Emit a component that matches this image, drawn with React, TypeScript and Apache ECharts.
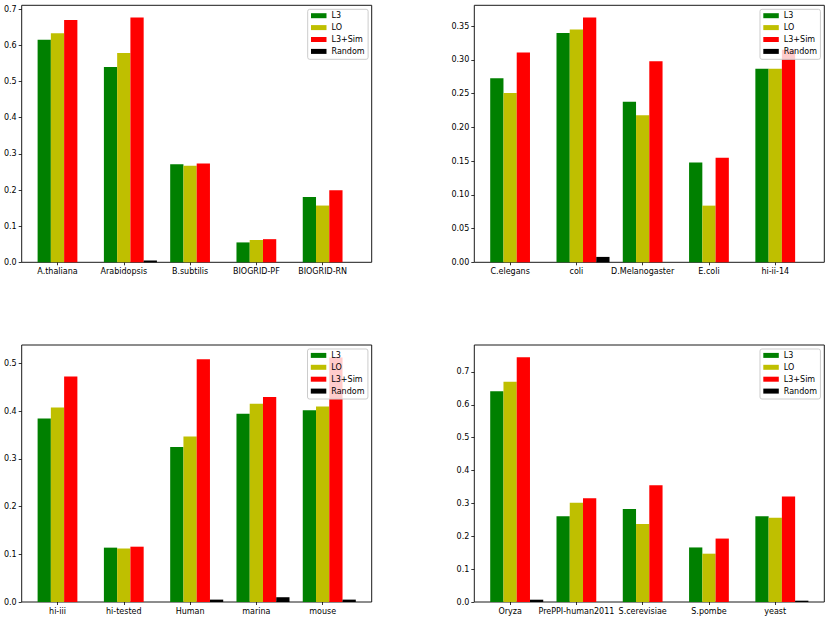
import React, { useEffect, useRef } from "react";
import * as echarts from "echarts";

const SERIES_NAMES = ["L3", "LO", "L3+Sim", "Random"];
const COLORS = ["#008000", "#bfbf00", "#ff0000", "#000000"];

// Panel 1
const cats1 = ["A.thaliana", "Arabidopsis", "B.subtilis", "BIOGRID-PF", "BIOGRID-RN"];
const l3_1 = [0.616, 0.540, 0.271, 0.055, 0.181];
const lo_1 = [0.634, 0.579, 0.267, 0.062, 0.157];
const sim_1 = [0.670, 0.677, 0.273, 0.064, 0.199];
const rnd_1 = [0, 0.005, 0, 0, 0];
const yTicks1 = [0, 0.1, 0.2, 0.3, 0.4, 0.5, 0.6, 0.7];
const yMax1 = 0.711;

// Panel 2
const cats2 = ["C.elegans", "coli", "D.Melanogaster", "E.coli", "hi-ii-14"];
const l3_2 = [0.273, 0.340, 0.238, 0.148, 0.287];
const lo_2 = [0.251, 0.345, 0.218, 0.084, 0.287];
const sim_2 = [0.311, 0.363, 0.298, 0.155, 0.315];
const rnd_2 = [0, 0.008, 0, 0, 0];
const yTicks2 = [0, 0.05, 0.1, 0.15, 0.2, 0.25, 0.3, 0.35];
const yMax2 = 0.381;

// Panel 3
const cats3 = ["hi-iii", "hi-tested", "Human", "marina", "mouse"];
const l3_3 = [0.385, 0.114, 0.325, 0.395, 0.402];
const lo_3 = [0.408, 0.112, 0.347, 0.416, 0.410];
const sim_3 = [0.473, 0.116, 0.509, 0.430, 0.513];
const rnd_3 = [0, 0, 0.005, 0.010, 0.005];
const yTicks3 = [0, 0.1, 0.2, 0.3, 0.4, 0.5];
const yMax3 = 0.539;

// Panel 4
const cats4 = ["Oryza", "PrePPI-human2011", "S.cerevisiae", "S.pombe", "yeast"];
const l3_4 = [0.641, 0.261, 0.283, 0.166, 0.261];
const lo_4 = [0.670, 0.302, 0.237, 0.147, 0.256];
const sim_4 = [0.745, 0.316, 0.355, 0.193, 0.321];
const rnd_4 = [0.007, 0, 0, 0, 0.004];
const yTicks4 = [0, 0.1, 0.2, 0.3, 0.4, 0.5, 0.6, 0.7];
const yMax4 = 0.782;

const PANELS = [
  { cats: cats1, vals: [l3_1, lo_1, sim_1, rnd_1], ticks: yTicks1, max: yMax1, dec: 1 },
  { cats: cats2, vals: [l3_2, lo_2, sim_2, rnd_2], ticks: yTicks2, max: yMax2, dec: 2 },
  { cats: cats3, vals: [l3_3, lo_3, sim_3, rnd_3], ticks: yTicks3, max: yMax3, dec: 1 },
  { cats: cats4, vals: [l3_4, lo_4, sim_4, rnd_4], ticks: yTicks4, max: yMax4, dec: 1 },
];

const LAYOUT = [
  { left: 21.7, top: 5.3, lgLeft: 307.7, lgTop: 9.3 },
  { left: 474.3, top: 5.3, lgLeft: 760, lgTop: 9.3 },
  { left: 21.7, top: 345, lgLeft: 307.5, lgTop: 349 },
  { left: 474.3, top: 345, lgLeft: 760, lgTop: 349 },
];

const FONT = "DejaVu Sans";

function buildOption() {
  const W = 350;
  const H = 257;
  const span = 5.28; // matplotlib x extent in category units
  const unit = W / span;
  const catOffset = 0.04 * unit;
  const barW = 0.2 * unit;

  const grid: any[] = [];
  const xAxis: any[] = [];
  const yAxis: any[] = [];
  const series: any[] = [];
  const legend: any[] = [];

  PANELS.forEach((p, i) => {
    const L = LAYOUT[i];
    const gFrame = grid.length;
    grid.push({
      left: L.left,
      top: L.top,
      width: W,
      height: H,
      show: true,
      borderColor: "#1a1a1a",
      borderWidth: 1,
      backgroundColor: "transparent",
    });
    grid.push({
      left: L.left + catOffset,
      top: L.top,
      width: 5 * unit,
      height: H,
      show: false,
    });
    xAxis.push({ type: "value", gridIndex: gFrame, min: 0, max: 1, show: false });
    yAxis.push({
      type: "value",
      gridIndex: gFrame,
      min: 0,
      max: p.max,
      interval: p.dec === 2 ? 0.05 : 0.1,
      axisLine: { show: false },
      splitLine: { show: false },
      axisTick: {
        show: true,
        length: 3,
        lineStyle: { color: "#000", width: 0.8 },
        customValues: p.ticks,
      },
      axisLabel: {
        show: true,
        margin: 5,
        fontSize: 8,
        fontFamily: FONT,
        color: "#000",
        customValues: p.ticks,
        formatter: (v: number) => v.toFixed(p.dec),
      },
    });
    xAxis.push({
      type: "category",
      gridIndex: gFrame + 1,
      data: p.cats,
      boundaryGap: true,
      axisLine: { show: false },
      axisTick: { show: true, alignWithLabel: true, length: 3, lineStyle: { color: "#000", width: 0.8 } },
      axisLabel: { show: true, interval: 0, margin: 5, fontSize: 8, fontFamily: FONT, color: "#000" },
      splitLine: { show: false },
    });
    yAxis.push({ type: "value", gridIndex: gFrame + 1, min: 0, max: p.max, show: false, splitLine: { show: false } });

    series.push({
      type: "bar",
      name: "_pad",
      xAxisIndex: gFrame + 1,
      yAxisIndex: gFrame + 1,
      data: p.cats.map(() => 0),
      barWidth: barW,
      barGap: 0,
      silent: true,
      itemStyle: { color: "rgba(0,0,0,0)" },
    });
    p.vals.forEach((vals, k) => {
      series.push({
        type: "bar",
        name: SERIES_NAMES[k],
        xAxisIndex: gFrame + 1,
        yAxisIndex: gFrame + 1,
        data: vals,
        barWidth: barW,
        barGap: 0,
        itemStyle: { color: COLORS[k] },
      });
    });

    legend.push({
      data: SERIES_NAMES,
      orient: "vertical",
      left: L.lgLeft,
      top: L.lgTop,
      icon: "rect",
      itemWidth: 15.5,
      itemHeight: 5,
      itemGap: 3.9,
      padding: [2.4, 3.5, 3.9, 3.3],
      selectedMode: false,
      backgroundColor: "rgba(255,255,255,0.8)",
      borderColor: "#cccccc",
      borderWidth: 1,
      borderRadius: 2,
      textStyle: { fontSize: 8, fontFamily: FONT, color: "#000" },
    });
  });

  return {
    animation: false,
    backgroundColor: "#ffffff",
    textStyle: { fontFamily: FONT },
    grid,
    xAxis,
    yAxis,
    series,
    legend,
  };
}

export default function App() {
  const ref = useRef<HTMLDivElement>(null);
  useEffect(() => {
    if (!ref.current) return;
    const chart = echarts.init(ref.current, undefined, { renderer: "svg" });
    chart.setOption(buildOption() as any);
    return () => chart.dispose();
  }, []);
  return (
    <div
      ref={ref}
      style={{ position: "fixed", left: 0, top: 0, width: 829, height: 621 }}
    />
  );
}
